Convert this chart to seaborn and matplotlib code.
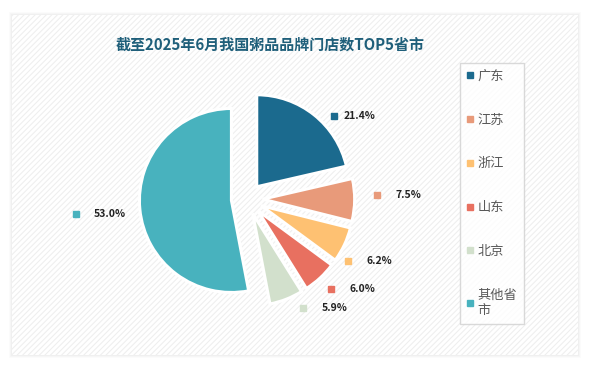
import numpy as np
import matplotlib
matplotlib.use("Agg")
import matplotlib.pyplot as plt
from matplotlib.patches import Rectangle
from matplotlib.lines import Line2D
import seaborn as sns

sns.set_theme(style="white")
plt.rcParams['font.family'] = ['Noto Sans CJK SC', 'DejaVu Sans']
plt.rcParams['hatch.linewidth'] = 0.8

regions = ['广东', '江苏', '浙江', '山东', '北京', '其他省市']
legend_names = ['广东', '江苏', '浙江', '山东', '北京', '其他省\n市']
shares = [21.4, 7.5, 6.2, 6.0, 5.9, 53.0]
colors = ['#1b6a8e', '#e89a7a', '#fec172', '#e87060', '#d2e0cc', '#48b2be']

W, H = 590, 368
fig = plt.figure(figsize=(W / 100, H / 100), dpi=100, facecolor='white')

# background panel with soft shadow and faint diagonal hatch
bg = fig.add_axes([0, 0, 1, 1])
bg.set_xlim(0, W)
bg.set_ylim(H, 0)
bg.axis('off')
for i, a in enumerate([0.015, 0.02, 0.025]):
    d = 3 - i
    bg.add_patch(Rectangle((12 - d, 15 - d), 566 + 2 * d, 340 + 2 * d,
                           facecolor='black', alpha=a, edgecolor='none'))
bg.add_patch(Rectangle((12, 15), 566, 340, facecolor='white', edgecolor='none'))
bg.add_patch(Rectangle((12, 15), 566, 340, facecolor='none', edgecolor='#efefef',
                       linewidth=0, hatch='//////'))

bg.text(270, 45, '截至2025年6月我国粥品品牌门店数TOP5省市', ha='center', va='center',
        fontsize=10.8, fontweight='bold', color='#1f5f7a')

# pie axes: radius 1 -> ~92 px
cx, cy, rpx = 247, 199, 92
half = 1.6 * rpx
ax = fig.add_axes([(cx - half) / W, (H - cy - half) / H, 2 * half / W, 2 * half / H])

wedges, _ = ax.pie(shares, colors=colors, startangle=90, counterclock=False,
                   explode=[0.17] * len(shares), radius=1,
                   wedgeprops=dict(edgecolor='white', linewidth=2.2))
ax.set_xlim(-1.6, 1.6)
ax.set_ylim(-1.6, 1.6)
ax.axis('off')

# label placement (angle offsets and distances tuned to the reference layout)
label_shift = [-8, 2.3, -6.3, 0.4, 5.9, -0.4]
label_dist = [1.31, 1.41, 1.29, 1.34, 1.33, 1.87]
label_gap = [0.1, 0.2, 0.2, 0.2, 0.2, 0.2]
for w, s, c, sh, dist, gap in zip(wedges, shares, colors, label_shift,
                                  label_dist, label_gap):
    mid = np.deg2rad((w.theta1 + w.theta2) / 2 + sh)
    x, y = dist * np.cos(mid), dist * np.sin(mid)
    ax.plot(x, y, marker='s', markersize=3.8, color=c, linestyle='none',
            clip_on=False)
    ax.text(x + gap, y, f'{s:.1f}%', ha='left', va='center', fontsize=7.5,
            fontweight='bold', color='#222222')

handles = [Line2D([], [], marker='s', linestyle='none', markersize=3.8, color=c)
           for c in colors]
leg = fig.legend(handles, legend_names, loc='upper left',
                 bbox_to_anchor=(460 / W, 1 - 63 / H), borderaxespad=0,
                 frameon=True, fontsize=9.5, labelspacing=2.34, handlelength=0.5,
                 handletextpad=0.35, borderpad=0.5, fancybox=False)
leg.get_frame().set_edgecolor('#d0d0d0')
leg.get_frame().set_linewidth(1)
leg.get_frame().set_facecolor('white')
for t in leg.get_texts():
    t.set_color('#595959')

fig.savefig('out.png', dpi=100, facecolor='white')
